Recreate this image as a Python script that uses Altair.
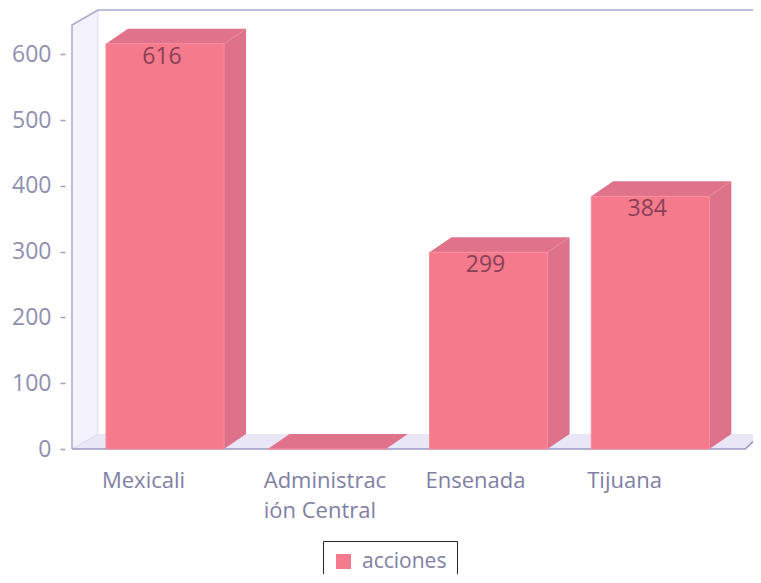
import altair as alt
import pandas as pd

categories = ["Mexicali", "Administrac\nión Central", "Ensenada", "Tijuana"]
values = [616, 0, 299, 384]
series_name = "acciones"

# geometry in scale units
BAR_W = 0.73      # bar width, in category slots
DEPTH_X = 0.136   # oblique depth, in category slots
DEPTH_Y = 22.8    # oblique depth, in value units
X_MIN, X_MAX = -0.21, 4.0
X_FAR = 4.05
Y_MAX = 667.2
FLOOR_END = 3.952
WALL_X = X_MIN + DEPTH_X * 1.18
FONT = "Open Sans"

bars = pd.DataFrame({
    "cat": categories,
    "value": values,
    "i": range(len(values)),
})
bars["series"] = series_name
bars["x0"] = bars["i"]
bars["x1"] = bars["i"] + BAR_W

side_rows, top_rows = [], []
for i, v in enumerate(values):
    x0, x1 = i, i + BAR_W
    side_rows += [
        {"b": i, "x": x1, "y": 0, "y2": v},
        {"b": i, "x": x1 + DEPTH_X, "y": DEPTH_Y, "y2": v + DEPTH_Y},
    ]
    top_rows += [
        {"b": i, "x": x0, "y": v, "y2": v},
        {"b": i, "x": x0 + DEPTH_X, "y": v, "y2": v + DEPTH_Y},
        {"b": i, "x": x1, "y": v, "y2": v + DEPTH_Y},
        {"b": i, "x": x1 + DEPTH_X, "y": v + DEPTH_Y, "y2": v + DEPTH_Y},
    ]
side = pd.DataFrame(side_rows)
top = pd.DataFrame(top_rows)

left_wall = pd.DataFrame([
    {"x": X_MIN, "y": 0, "y2": Y_MAX - DEPTH_Y},
    {"x": WALL_X, "y": DEPTH_Y, "y2": Y_MAX},
])
floor = pd.DataFrame([
    {"x": X_MIN, "y": 0, "y2": 0},
    {"x": WALL_X, "y": 0, "y2": DEPTH_Y},
    {"x": FLOOR_END, "y": 0, "y2": DEPTH_Y},
    {"x": X_FAR, "y": DEPTH_Y, "y2": DEPTH_Y},
])
outline = pd.DataFrame([
    {"o": 0, "x": X_MIN, "y": 0},
    {"o": 1, "x": X_MIN, "y": Y_MAX - DEPTH_Y},
    {"o": 2, "x": WALL_X, "y": Y_MAX},
    {"o": 3, "x": X_FAR, "y": Y_MAX},
])
base_line = pd.DataFrame([
    {"o": 0, "x": X_MIN, "y": 0},
    {"o": 1, "x": FLOOR_END, "y": 0},
    {"o": 2, "x": X_FAR, "y": DEPTH_Y},
])
inner_line = pd.DataFrame([
    {"o": 0, "x": WALL_X, "y": Y_MAX},
    {"o": 1, "x": WALL_X, "y": DEPTH_Y},
    {"o": 2, "x": X_MIN, "y": 0},
])

xs = alt.Scale(domain=[X_MIN, X_MAX], nice=False, zero=False)
ys = alt.Scale(domain=[0, Y_MAX], nice=False, zero=False)
X = alt.X("x:Q", scale=xs, axis=None)
Y = alt.Y("y:Q", scale=ys, title=None, axis=alt.Axis(
    values=[0, 100, 200, 300, 400, 500, 600], title=None, grid=False,
    domain=False, offset=7, tickSize=5, tickColor="#a0a0c4", tickWidth=1.5,
    labelFont=FONT, labelFontSize=23, labelColor="#8f8fb0", labelPadding=9,
))

wall_l = alt.Chart(left_wall).mark_area(color="#f3f1fa").encode(X, Y, y2="y2:Q")
wall_f = alt.Chart(floor).mark_area(color="#e9e6f5").encode(X, Y, y2="y2:Q")
inner = alt.Chart(inner_line).mark_line(color="#dcdaf0", strokeWidth=1).encode(X, Y, order="o:Q")
outer = alt.Chart(outline).mark_line(color="#a9a9d2", strokeWidth=1.5).encode(X, Y, order="o:Q")
base = alt.Chart(base_line).mark_line(color="#9a9ac2", strokeWidth=1.5).encode(X, Y, order="o:Q")

side_l = alt.Chart(side).mark_area(color="#de728a").encode(X, Y, y2="y2:Q", detail="b:N")
top_l = alt.Chart(top).mark_area(color="#e0728c").encode(X, Y, y2="y2:Q", detail="b:N")

front = alt.Chart(bars).mark_rect(stroke="#f68d9c", strokeWidth=1).encode(
    x=alt.X("x0:Q", scale=xs, axis=None),
    x2="x1:Q",
    y=alt.Y("value:Q", scale=ys, title=None),
    y2=alt.Y2(datum=0),
    color=alt.Color("series:N", scale=alt.Scale(range=["#f47a8c"]), legend=alt.Legend(
        title=None, orient="none", legendX=251, legendY=531,
        symbolType="square", symbolSize=225, symbolStrokeWidth=0,
        labelFont=FONT, labelFontSize=21, labelColor="#8080a4", labelOffset=8,
        padding=10, strokeColor="#222233", fillColor="#ffffff",
    )),
)

value_text = alt.Chart(bars[bars["value"] > 0]).transform_calculate(
    xc=f"datum.i + {BAR_W} / 2"
).mark_text(
    font=FONT, fontSize=23, color="#8a3f58", dx=-3, dy=13
).encode(
    x=alt.X("xc:Q", scale=xs, axis=None),
    y=alt.Y("value:Q", scale=ys, title=None),
    text="value:Q",
)

cat_text = alt.Chart(bars).mark_text(
    font=FONT, fontSize=22, color="#8080a4", align="left", baseline="top",
    dx=-4, lineBreak="\n", lineHeight=30,
).encode(
    x=alt.X("i:Q", scale=xs, axis=None),
    y=alt.value(461),
    text="cat:N",
)

chart = alt.layer(
    wall_l, wall_f, inner, outer, base, side_l, top_l, front, value_text, cat_text
).properties(
    width=681, height=439,
    autosize=alt.AutoSizeParams(type="none"),
    padding={"left": 64, "top": 2, "right": 0, "bottom": 125},
).configure_view(stroke=None)

chart.save("out.html", embed_options={"renderer": "svg", "actions": False})
